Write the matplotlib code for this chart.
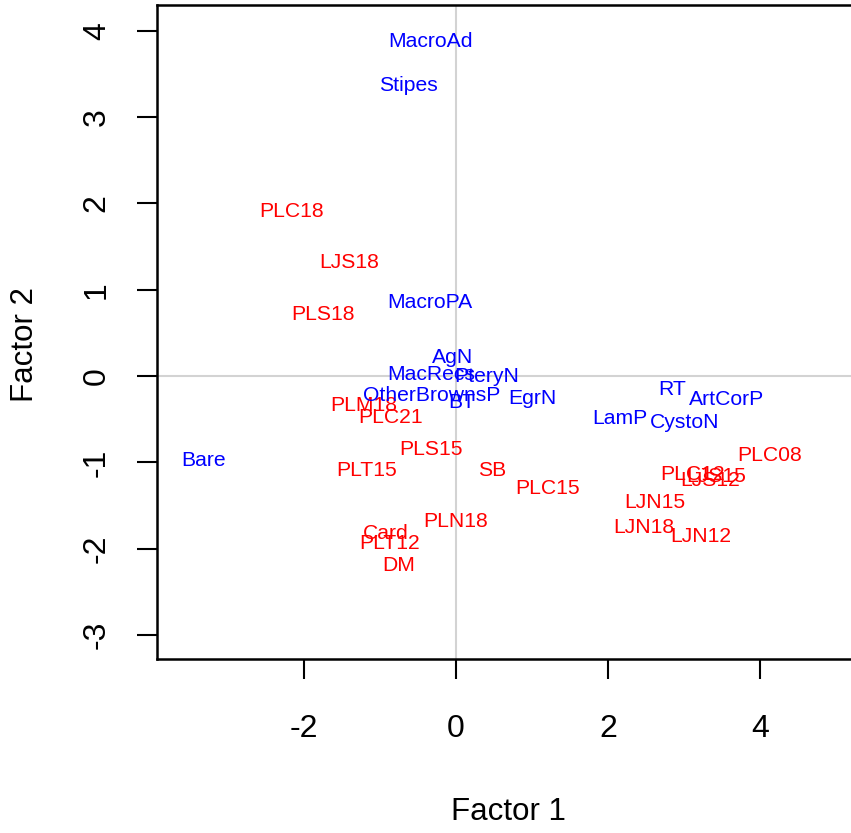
import matplotlib
matplotlib.use("Agg")
import matplotlib.pyplot as plt

plt.rcParams["font.family"] = ["Liberation Sans", "DejaVu Sans"]

# variables (blue)
var_names = ["MacroAd", "Stipes", "MacroPA", "AgN", "MacRecs", "PteryN",
             "OtherBrownsP", "BT", "EgrN", "RT", "ArtCorP", "LamP", "CystoN", "Bare"]
var_x = [-0.34, -0.62, -0.34, -0.04, -0.32, 0.41, -0.32, 0.08, 1.01, 2.84, 3.56, 2.16, 3.01, -3.32]
var_y = [3.88, 3.37, 0.85, 0.22, 0.02, 0.00, -0.22, -0.31, -0.26, -0.16, -0.27, -0.49, -0.54, -0.98]

# sites (red)
site_names = ["PLC18", "LJS18", "PLS18", "PLM18", "PLC21", "PLS15", "PLT15", "SB", "PLC15",
              "PLN18", "Card", "PLT12", "DM", "PLC08", "PLC12", "LJS12", "LJS15",
              "LJN15", "LJN18", "LJN12"]
site_x = [-2.17, -1.41, -1.75, -1.21, -0.86, -0.33, -1.18, 0.47, 1.20,
          0.00, -0.93, -0.87, -0.76, 4.13, 3.11, 3.34, 3.43,
          2.62, 2.47, 3.22]
site_y = [1.91, 1.31, 0.71, -0.34, -0.48, -0.85, -1.09, -1.10, -1.30,
          -1.68, -1.82, -1.94, -2.20, -0.92, -1.14, -1.21, -1.17,
          -1.46, -1.75, -1.86]

xticks = [-2, 0, 2, 4]
yticks = [-3, -2, -1, 0, 1, 2, 3, 4]

fig = plt.figure(figsize=(8.51, 8.33), dpi=100)
ax = fig.add_axes([157 / 851, 174 / 833, 703 / 851, 654 / 833])
ax.set_xlim(-3.934, 5.316)
ax.set_ylim(-3.279, 4.299)

ax.axhline(0, color="#d3d3d3", lw=1.5, zorder=0)
ax.axvline(0, color="#d3d3d3", lw=1.5, zorder=0)

for n, x, y in zip(site_names, site_x, site_y):
    ax.text(x, y, n, color="#ff0000", fontsize=15.2, ha="center", va="center")
for n, x, y in zip(var_names, var_x, var_y):
    ax.text(x, y, n, color="#0000ff", fontsize=15.2, ha="center", va="center")

ax.set_xticks(xticks)
ax.set_yticks(yticks)
ax.set_xticklabels([str(v) for v in xticks])
ax.set_yticklabels([str(v) for v in yticks], rotation=90, va="center")
ax.tick_params(axis="both", direction="out", length=14.5, width=1.5, labelsize=23)
ax.tick_params(axis="x", pad=25)
ax.tick_params(axis="y", pad=18)
for s in ax.spines.values():
    s.set_linewidth(1.8)

fig.text(508 / 851, 1 - 812 / 833, "Factor 1", fontsize=22.5, ha="center", va="center")
fig.text(25 / 851, 1 - 345 / 833, "Factor 2", fontsize=22.5, ha="center", va="center", rotation=90)

fig.savefig("out.png", dpi=100)
